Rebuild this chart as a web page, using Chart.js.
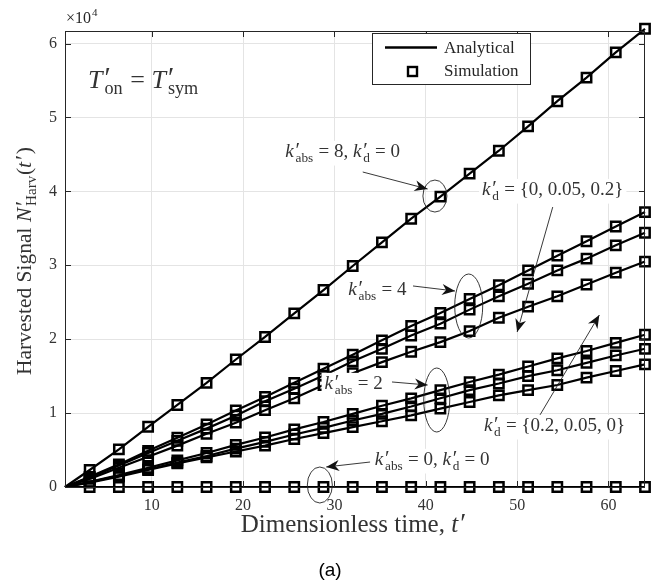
<!DOCTYPE html>
<html>
<head>
<meta charset="utf-8">
<script src="https://cdn.jsdelivr.net/npm/chart.js@4"></script>
<style>
  html, body { margin: 0; background: #fff; }
  #wrap { width: 658px; height: 586px; position: relative; }
</style>
</head>
<body>
<div id="wrap"><canvas id="chartHarv"></canvas></div>
<script>
// ---- data (harvested signal vs dimensionless time) ----
const T_MIN = 0.5;
const T_MAX = 64;
const Y_MAX = 61700;
const X_TICKS = [10, 20, 30, 40, 50, 60];
const Y_TICKS = [0, 10000, 20000, 30000, 40000, 50000, 60000];

const TIME = [3.2, 6.4, 9.6, 12.8, 16, 19.2, 22.4, 25.6, 28.8, 32,
              35.2, 38.4, 41.6, 44.8, 48, 51.2, 54.4, 57.6, 60.8, 64];

const K8_D0    = [2300, 5100, 8150, 11100, 14100, 17250, 20300, 23500, 26650, 29900,
                  33100, 36300, 39300, 42400, 45500, 48800, 52200, 55400, 58800, 62000];
const K4_D0    = [1380, 3060, 4890, 6660, 8460, 10350, 12180, 14100, 16000, 17900,
                  19850, 21780, 23550, 25450, 27300, 29300, 31300, 33250, 35250, 37200];
const K4_D005  = [1300, 2900, 4600, 6250, 7900, 9650, 11600, 13300, 15100, 17000,
                  18700, 20500, 22100, 24000, 25800, 27500, 29300, 30900, 32700, 34400];
const K4_D02   = [1100, 2600, 4100, 5600, 7200, 8700, 10400, 12000, 13800, 15400,
                  16900, 18300, 19600, 21100, 22900, 24400, 25800, 27400, 29000, 30500];
const K2_D0    = [700, 1600, 2600, 3600, 4600, 5700, 6700, 7800, 8800, 9900,
                  11000, 12000, 13100, 14200, 15200, 16300, 17400, 18400, 19500, 20600];
const K2_D005  = [650, 1500, 2400, 3300, 4200, 5200, 6100, 7100, 8000, 9000,
                  9900, 10900, 12000, 13100, 14000, 15000, 15800, 16800, 17800, 18700];
const K2_D02   = [600, 1400, 2300, 3200, 4000, 4800, 5600, 6500, 7300, 8100,
                  8900, 9700, 10600, 11500, 12400, 13100, 13800, 14800, 15700, 16600];
const K0_D0    = [0, 0, 0, 0, 0, 0, 0, 0, 0, 0,
                  0, 0, 0, 0, 0, 0, 0, 0, 0, 0];

const SERIES = [K8_D0, K4_D0, K4_D005, K4_D02, K2_D0, K2_D005, K2_D02, K0_D0];

// ---- text helpers ----
const SERIF = '"Liberation Serif", "Times New Roman", serif';
const fnt = (size, italic) => (italic ? 'italic ' : '') + size + 'px ' + SERIF;
const PRIME = '\u2032';

// runs: plain string, {i: 'k'} italic symbol, {sup: PRIME, sub: 'abs'} stacked scripts
function layoutRuns(ctx, runs, size) {
  return runs.map(r => {
    if (typeof r === 'string') {
      ctx.font = fnt(size);
      return { r, w: ctx.measureText(r).width };
    }
    if (r.i) {
      ctx.font = fnt(size, true);
      return { r, w: ctx.measureText(r.i).width + size * 0.04 };
    }
    ctx.font = fnt(size * 1.1);
    const ws = r.sup ? ctx.measureText(r.sup).width : 0;
    ctx.font = fnt(size * 0.7);
    const wb = r.sub ? ctx.measureText(r.sub).width : 0;
    return { r, w: Math.max(ws, wb) + size * 0.08 };
  });
}

function drawRuns(ctx, runs, x, y, size, align, bg) {
  const parts = layoutRuns(ctx, runs, size);
  const total = parts.reduce((s, p) => s + p.w, 0);
  let cx = align === 'center' ? x - total / 2 : align === 'right' ? x - total : x;
  if (bg) {
    ctx.fillStyle = '#fff';
    ctx.fillRect(cx - 3, y - size * 0.85, total + 6, size * 1.3);
  }
  ctx.textBaseline = 'alphabetic';
  ctx.textAlign = 'left';
  ctx.fillStyle = '#333';
  parts.forEach(p => {
    const r = p.r;
    if (typeof r === 'string') {
      ctx.font = fnt(size);
      ctx.fillText(r, cx, y);
    } else if (r.i) {
      ctx.font = fnt(size, true);
      ctx.fillText(r.i, cx, y);
    } else {
      if (r.sup) {
        ctx.font = fnt(size * 1.1);
        ctx.fillText(r.sup, cx + 1, y - size * 0.02);
      }
      if (r.sub) {
        ctx.font = fnt(size * 0.7);
        ctx.fillText(r.sub, cx + 1, y + size * 0.24);
      }
    }
    cx += p.w;
  });
}

function arrow(ctx, x1, y1, x2, y2) {
  ctx.save();
  ctx.strokeStyle = '#222';
  ctx.fillStyle = '#111';
  ctx.lineWidth = 0.9;
  ctx.beginPath();
  ctx.moveTo(x1, y1);
  ctx.lineTo(x2, y2);
  ctx.stroke();
  const a = Math.atan2(y2 - y1, x2 - x1);
  const L = 13, W = 5.5, N = 9;
  const bx = x2 - L * Math.cos(a), by = y2 - L * Math.sin(a);
  const nx = x2 - N * Math.cos(a), ny = y2 - N * Math.sin(a);
  ctx.beginPath();
  ctx.moveTo(x2, y2);
  ctx.lineTo(bx - W * Math.sin(a), by + W * Math.cos(a));
  ctx.lineTo(nx, ny);
  ctx.lineTo(bx + W * Math.sin(a), by - W * Math.cos(a));
  ctx.closePath();
  ctx.fill();
  ctx.restore();
}

function ellipse(ctx, x, y, rx, ry) {
  ctx.save();
  ctx.strokeStyle = '#222';
  ctx.lineWidth = 0.9;
  ctx.beginPath();
  ctx.ellipse(x, y, rx, ry, 0, 0, Math.PI * 2);
  ctx.stroke();
  ctx.restore();
}

const kAbs = v => [{ i: 'k' }, { sup: PRIME, sub: 'abs' }, ' = ' + v];
const kD = v => [{ i: 'k' }, { sup: PRIME, sub: 'd' }, ' = ' + v];

const decor = {
  id: 'decor',
  afterDraw(chart) {
    const { ctx, chartArea: a, scales: { x, y } } = chart;
    const px = v => x.getPixelForValue(v);
    const py = v => y.getPixelForValue(v);
    ctx.save();

    // box and inward ticks
    ctx.strokeStyle = '#262626';
    ctx.lineWidth = 1;
    ctx.strokeRect(a.left + 0.5, a.top + 0.5, a.right - a.left - 1, a.bottom - a.top);
    ctx.beginPath();
    X_TICKS.forEach(t => {
      const xx = Math.round(px(t)) + 0.5;
      ctx.moveTo(xx, a.bottom); ctx.lineTo(xx, a.bottom - 6);
      ctx.moveTo(xx, a.top); ctx.lineTo(xx, a.top + 6);
    });
    Y_TICKS.forEach(t => {
      const yy = Math.round(py(t)) + 0.5;
      ctx.moveTo(a.left, yy); ctx.lineTo(a.left + 6, yy);
      ctx.moveTo(a.right, yy); ctx.lineTo(a.right - 6, yy);
    });
    ctx.stroke();

    // exponent label
    ctx.fillStyle = '#262626';
    ctx.textAlign = 'left';
    ctx.font = fnt(16);
    ctx.fillText('×10', a.left + 1, a.top - 8);
    const ew = ctx.measureText('×10').width;
    ctx.font = fnt(11);
    ctx.fillText('4', a.left + 2 + ew, a.top - 15);

    // axis titles
    drawRuns(ctx, ['Dimensionless time, ', { i: 't' }, { sup: PRIME }], 354, 532, 25, 'center');
    ctx.save();
    ctx.translate(31, 261);
    ctx.rotate(-Math.PI / 2);
    drawRuns(ctx, ['Harvested Signal ', { i: 'N' }, { sup: PRIME, sub: 'Harv' }, '(', { i: 't' }, { sup: PRIME }, ')'], 0, 0, 21.5, 'center');
    ctx.restore();

    ctx.fillStyle = '#000';
    ctx.font = '19px "Liberation Sans", Arial, sans-serif';
    ctx.textAlign = 'center';
    ctx.fillText('(a)', 330, 576);

    // condition label
    drawRuns(ctx, [{ i: 'T' }, { sup: PRIME, sub: 'on' }, ' = ', { i: 'T' }, { sup: PRIME, sub: 'sym' }], a.left + 23, 88, 26, 'left');

    // legend
    ctx.fillStyle = '#fff';
    ctx.fillRect(372.5, 33.5, 158, 51);
    ctx.strokeStyle = '#262626';
    ctx.lineWidth = 1;
    ctx.strokeRect(372.5, 33.5, 158, 51);
    ctx.strokeStyle = '#000';
    ctx.lineWidth = 2.4;
    ctx.beginPath(); ctx.moveTo(385, 47.5); ctx.lineTo(437, 47.5); ctx.stroke();
    ctx.strokeRect(408, 67, 9, 9);
    ctx.fillStyle = '#262626';
    ctx.font = fnt(17);
    ctx.textAlign = 'left';
    ctx.fillText('Analytical', 444, 53);
    ctx.fillText('Simulation', 444, 76);

    // ellipses and arrows
    ellipse(ctx, px(41.0), py(39370), 12, 16);
    ellipse(ctx, px(44.7), py(24490), 14, 32);
    ellipse(ctx, px(41.2), py(11770), 13, 32);
    ellipse(ctx, px(28.4), py(270), 12.5, 18);

    arrow(ctx, px(33.1), py(42620), px(40.2), py(40320));
    arrow(ctx, px(38.6), py(27200), px(43.2), py(26520));
    arrow(ctx, px(36.3), py(14210), px(40.2), py(13800));
    arrow(ctx, px(33.9), py(3380), px(29.1), py(2710));
    arrow(ctx, px(53.9), py(37880), px(50.0), py(20970));
    arrow(ctx, px(52.5), py(9740), px(59.0), py(23270));

    // annotation texts
    drawRuns(ctx, [...kAbs('8, '), { i: 'k' }, { sup: PRIME, sub: 'd' }, ' = 0'], px(30.9), py(44650), 19, 'center', true);
    drawRuns(ctx, kD('{0, 0.05, 0.2}'), px(53.9), py(39500), 19, 'center', true);
    drawRuns(ctx, kAbs('4'), px(34.7), py(25980), 19, 'center', true);
    drawRuns(ctx, kAbs('2'), px(32.1), py(13260), 19, 'center', true);
    drawRuns(ctx, kD('{0.2, 0.05, 0}'), px(54.1), py(7580), 19, 'center', true);
    drawRuns(ctx, [...kAbs('0, '), { i: 'k' }, { sup: PRIME, sub: 'd' }, ' = 0'], px(40.7), py(2980), 19, 'center', true);

    ctx.restore();
  }
};

const datasets = [];
SERIES.forEach(vals => {
  datasets.push({
    label: 'Analytical',
    data: [{ x: T_MIN, y: 0 }].concat(TIME.map((t, i) => ({ x: t, y: vals[i] }))),
    showLine: true,
    borderColor: '#000',
    borderWidth: 2.2,
    pointRadius: 0,
    clip: false
  });
  datasets.push({
    label: 'Simulation',
    data: TIME.map((t, i) => ({ x: t, y: vals[i] })),
    showLine: false,
    pointStyle: 'rect',
    pointRadius: 6.6,
    borderColor: '#000',
    borderWidth: 2.5,
    backgroundColor: 'rgba(0,0,0,0)',
    clip: false
  });
});

new Chart(document.getElementById('chartHarv'), {
  type: 'scatter',
  data: { datasets },
  options: {
    responsive: true,
    maintainAspectRatio: false,
    animation: false,
    layout: { padding: { top: 31, right: 13, left: 0, bottom: 0 } },
    plugins: { legend: { display: false }, tooltip: { enabled: false } },
    scales: {
      x: {
        type: 'linear',
        min: T_MIN,
        max: T_MAX,
        afterBuildTicks: s => { s.ticks = X_TICKS.map(v => ({ value: v })); },
        afterFit: s => { s.height = 99; },
        grid: { color: '#e4e4e4', drawTicks: false },
        border: { display: false },
        ticks: { color: '#333', padding: 9, font: { family: SERIF, size: 16 }, maxRotation: 0 }
      },
      y: {
        type: 'linear',
        min: 0,
        max: Y_MAX,
        afterBuildTicks: s => { s.ticks = Y_TICKS.map(v => ({ value: v })); },
        afterFit: s => { s.width = 65; },
        grid: { color: '#e4e4e4', drawTicks: false },
        border: { display: false },
        ticks: { color: '#333', padding: 8, font: { family: SERIF, size: 16 }, callback: v => v / 10000 }
      }
    }
  },
  plugins: [decor]
});
</script>
</body>
</html>
